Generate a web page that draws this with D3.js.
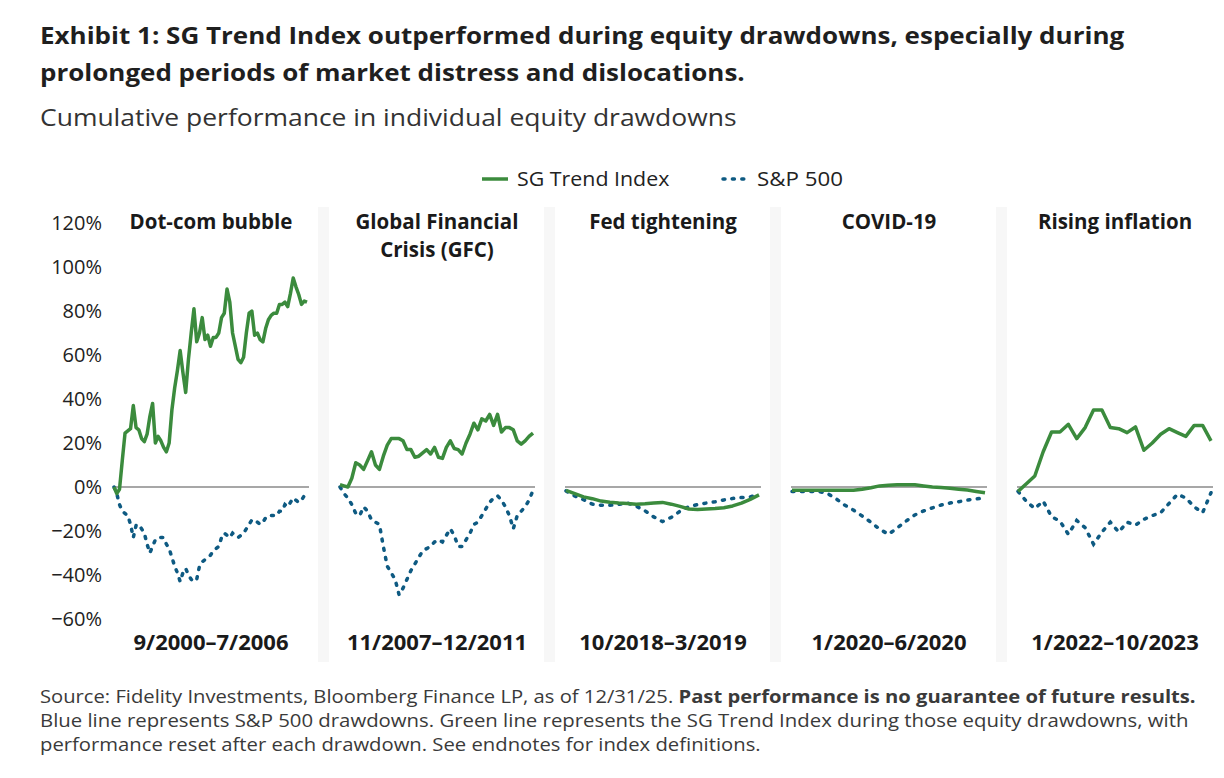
<!DOCTYPE html>
<html>
<head>
<meta charset="utf-8">
<script src="https://cdn.jsdelivr.net/npm/d3@7/dist/d3.min.js"></script>
<style>
    body { margin: 0; background: #fff; }
    text { font-family: 'Open Sans', 'Noto Sans', sans-serif; fill: #1a1a1a; }
</style>
</head>
<body>
<svg id="chart" width="1224" height="778"></svg>
<script>
// ---- data ----
const yTicks = [120, 100, 80, 60, 40, 20, 0, -20, -40, -60];

const panelTitles = [
    ['Dot-com bubble'],
    ['Global Financial', 'Crisis (GFC)'],
    ['Fed tightening'],
    ['COVID-19'],
    ['Rising inflation']
];
const panelPeriods = ['9/2000–7/2006', '11/2007–12/2011', '10/2018–3/2019', '1/2020–6/2020', '1/2022–10/2023'];

const legendLabels = ['SG Trend Index', 'S&P 500'];

// SG Trend Index, cumulative % per drawdown
const trendDotcom = [0, -3, -1, 12, 24.5, 25.5, 26.5, 37, 27, 26, 22, 20.6, 24, 32, 38, 20, 23, 21, 18, 16,
    20, 35, 45, 53, 62, 52, 43, 58, 70, 81, 66, 70, 77, 67, 69, 64, 68, 68, 70, 77,
    79, 90, 84, 70, 64, 58, 56.5, 59, 70, 79, 80, 69, 70, 67, 66, 72, 76, 78, 79, 79,
    83, 83, 84, 82, 88, 95, 91, 87.5, 83, 84.5, 84];
const trendGfc = [1, 0.5, 0, 4, 11, 10, 8, 12, 16, 10, 8, 14, 19, 22, 22, 22, 21, 17, 17, 13.5,
    14, 15.5, 17, 15, 18, 13.5, 13, 18, 21, 17.5, 17, 15, 20, 24, 29, 26, 31, 30, 33, 28,
    33, 25, 27, 27, 26, 21, 19.5, 21, 23, 24.5];
const trendFed = [-1.5, -3, -4.5, -5.3, -6.4, -6.9, -7.3, -7.5, -7.8, -7.6, -7.3, -7, -7.8, -8.8, -10, -10.2,
    -10, -9.8, -9.4, -8.6, -7.3, -5.6, -3.6];
const trendCovid = [-1.5, -1.5, -1.5, -1.5, -1.5, -1.5, -1.5, -1.5, -1, -0.3, 0.5, 0.8, 1, 1, 1, 0.5,
    0, -0.2, -0.6, -1, -1.4, -2, -2.6];
const trendInflation = [-2, 1.5, 5, 16, 25, 25, 28.5, 22, 27, 35, 35, 27, 26.5, 24.7, 27.3, 16.7,
    20, 24, 26.5, 24.7, 23, 28, 28, 21];

// S&P 500, cumulative % per drawdown
const spxDotcom = [0, -3, -8, -11, -12, -13, -17, -23, -17.5, -17, -19, -21, -26, -30, -27, -24, -23, -23, -23, -26,
    -28, -32, -36, -39, -43, -39, -37, -40, -42, -43, -42, -36, -34, -33, -32, -31, -29, -28, -27, -23,
    -21, -22, -23, -21, -22, -23, -22, -21, -19, -17, -15, -15, -16, -17, -16, -14, -14, -13, -13, -13,
    -11, -11, -8, -9, -7, -5, -6, -7, -6, -4, -2.5];
const spxGfc = [0, -3, -5, -8, -12, -13, -9, -11, -15, -16, -17, -27, -36, -39, -42, -49, -46, -42, -38, -35,
    -32, -29, -28, -27, -25, -24, -25, -22, -19, -22, -27, -27, -24, -21, -17, -16, -13, -10, -7, -5,
    -4, -6, -9, -13, -19, -13, -11, -9, -6, -1.5];
const spxFed = [-1.8, -4.1, -5.8, -7.8, -8.3, -8.3, -7.9, -7.3, -8.7, -10.8, -13.6, -15.7, -13.8, -11, -8.9, -8,
    -7.3, -6.7, -5.9, -5.2, -4.8, -4.5, -3.3];
const spxCovid = [-2, -2, -2, -2, -2.8, -5.3, -8.2, -10.5, -13.2, -16, -19.2, -21.5, -18.6, -15.5, -12.7, -10.9,
    -9.5, -8.2, -7.3, -6.7, -5.9, -5.4, -5];
const spxInflation = [-2, -6.5, -9.8, -6.4, -13.5, -15.5, -21.5, -15.2, -18.5, -26, -20.5, -16, -20.5, -16, -17.3, -14.7,
    -13, -11.7, -7.5, -3.3, -5, -9, -11.7, -2.6];

const trendSeries = [trendDotcom, trendGfc, trendFed, trendCovid, trendInflation];
const spxSeries = [spxDotcom, spxGfc, spxFed, spxCovid, spxInflation];

// ---- styles ----
const GREEN = '#3b8b3d';
const BLUE = '#0e5a82';
const DOTS = '2 7.4';

const svg = d3.select('#chart');

// squeeze a text group horizontally so it spans the given width
function fitWidth(g, width) {
    const w = g.node().getBBox().width;
    const x = +g.attr('data-x');
    const yy = +g.attr('data-y');
    g.attr('transform', `translate(${x},${yy}) scale(${width / w},1)`);
}

function textLine(x, yy, width, parts, size, color) {
    const g = svg.append('g').attr('data-x', x).attr('data-y', yy);
    const t = g.append('text').style('font-size', size + 'px');
    parts.forEach(p => {
        t.append('tspan')
            .style('font-weight', p.bold ? 700 : 400)
            .style('fill', color)
            .text(p.text);
    });
    fitWidth(g, width);
    return g;
}

// ---- header ----
textLine(40, 44, 1085, [{ text: 'Exhibit 1: SG Trend Index outperformed during equity drawdowns, especially during', bold: true }], 24, '#1f1f1f');
textLine(40, 81, 705, [{ text: 'prolonged periods of market distress and dislocations.', bold: true }], 24, '#1f1f1f');
textLine(40, 126, 697, [{ text: 'Cumulative performance in individual equity drawdowns' }], 24, '#333');

// ---- legend ----
const legend = svg.append('g');
legend.append('line')
    .attr('x1', 482).attr('x2', 508).attr('y1', 179).attr('y2', 179)
    .attr('stroke', GREEN).attr('stroke-width', 3.5);
legend.append('line')
    .attr('x1', 723).attr('x2', 749).attr('y1', 179).attr('y2', 179)
    .attr('stroke', BLUE).attr('stroke-width', 3.5)
    .attr('stroke-linecap', 'round').attr('stroke-dasharray', DOTS);
textLine(517, 186, 153, [{ text: legendLabels[0] }], 20, '#222');
textLine(757, 186, 86, [{ text: legendLabels[1] }], 20, '#222');

// ---- scales ----
const y = d3.scaleLinear().domain([-60, 120]).range([619, 223]);
const panelLeft = d3.scaleLinear().domain([0, 1]).range([113, 339]);
const panelWidth = 196;

// gutters between panels
svg.append('g').selectAll('rect')
    .data(d3.range(4))
    .join('rect')
    .attr('x', i => panelLeft(i) + panelWidth + 9)
    .attr('y', 207)
    .attr('width', 11)
    .attr('height', 455)
    .attr('fill', '#f7f7f7');

// y axis
const yAxis = svg.append('g')
    .attr('transform', 'translate(108,0)')
    .call(d3.axisLeft(y).tickValues(yTicks).tickSize(0).tickPadding(6)
        .tickFormat(d => d3.format('d')(d) + '%'));
yAxis.select('.domain').remove();
yAxis.selectAll('text')
    .style('font-family', "'Open Sans', sans-serif")
    .style('font-size', '20px')
    .style('fill', '#222');

// ---- panels ----
trendSeries.forEach((trend, p) => {
    const x0 = panelLeft(p);
    const g = svg.append('g');
    const xTrend = d3.scaleLinear().domain([0, trend.length - 1]).range([x0 + 1, x0 + panelWidth - 2]);
    const spx = spxSeries[p];
    const xSpx = d3.scaleLinear().domain([0, spx.length - 1]).range([x0 + 1, x0 + panelWidth - 2]);

    g.append('line')
        .attr('x1', x0).attr('x2', x0 + panelWidth)
        .attr('y1', y(0)).attr('y2', y(0))
        .attr('stroke', '#8a8a8a').attr('stroke-width', 1.5);

    g.append('path')
        .datum(spx)
        .attr('d', d3.line().x((d, i) => xSpx(i)).y(d => y(d)))
        .attr('fill', 'none')
        .attr('stroke', BLUE)
        .attr('stroke-width', 3.5)
        .attr('stroke-linecap', 'round')
        .attr('stroke-dasharray', DOTS);

    g.append('path')
        .datum(trend)
        .attr('d', d3.line().x((d, i) => xTrend(i)).y(d => y(d)))
        .attr('fill', 'none')
        .attr('stroke', GREEN)
        .attr('stroke-width', 3.5)
        .attr('stroke-linejoin', 'round');

    // panel title, one text per line
    const cx = x0 + panelWidth / 2;
    panelTitles[p].forEach((line, i) => {
        g.append('text')
            .attr('x', cx)
            .attr('y', 229 + i * 28)
            .attr('text-anchor', 'middle')
            .style('font-size', '20.5px')
            .style('font-weight', 700)
            .text(line);
    });

    g.append('text')
        .attr('x', cx)
        .attr('y', 650)
        .attr('text-anchor', 'middle')
        .style('font-size', '22px')
        .style('font-weight', 700)
        .text(panelPeriods[p]);
});

// ---- footnote ----
textLine(40, 703, 1156, [
    { text: 'Source: Fidelity Investments, Bloomberg Finance LP, as of 12/31/25. ' },
    { text: 'Past performance is no guarantee of future results.', bold: true }
], 18, '#3a3a3a');
textLine(40, 727, 1149, [{ text: 'Blue line represents S&P 500 drawdowns. Green line represents the SG Trend Index during those equity drawdowns, with' }], 18, '#3a3a3a');
textLine(40, 751, 721, [{ text: 'performance reset after each drawdown. See endnotes for index definitions.' }], 18, '#3a3a3a');
</script>
</body>
</html>
